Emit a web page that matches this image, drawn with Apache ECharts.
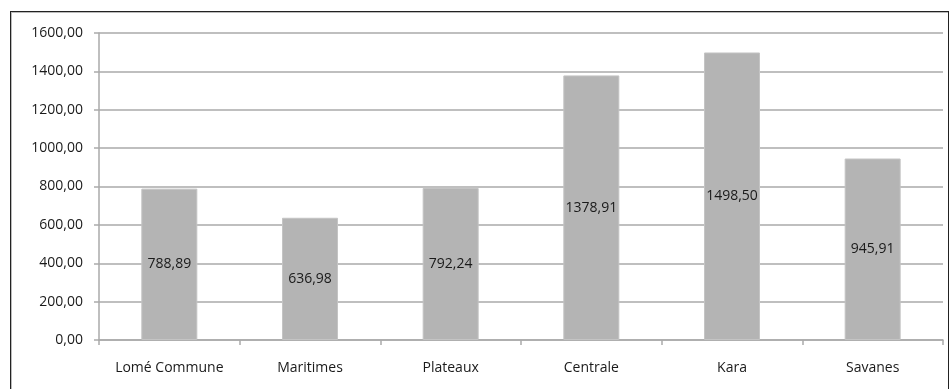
<!DOCTYPE html>
<html>
<head>
<meta charset="utf-8">
<script src="https://cdn.jsdelivr.net/npm/echarts@6/dist/echarts.min.js"></script>
<style>
  html, body { margin: 0; padding: 0; background: #fff; }
  #frame {
    position: absolute; left: 10px; top: 11px; width: 937px; height: 390px;
    border: 1px solid #222; border-bottom: none;
    box-shadow: inset 1px 1px 0 #bbb;
  }
  #chart { position: absolute; left: 0; top: 0; width: 951px; height: 389px; }
</style>
</head>
<body>
<div id="frame"></div>
<div id="chart"></div>
<script>
// regions
const categories = ['Lomé Commune', 'Maritimes', 'Plateaux', 'Centrale', 'Kara', 'Savanes'];
const values = [788.89, 636.98, 792.24, 1378.91, 1498.50, 945.91];
const yTicks = { min: 0, max: 1600, interval: 200 };

function fmt(v) {
  return Number(v).toFixed(2).replace('.', ',');
}

let myChart = echarts.init(document.getElementById('chart'));
let option = {
  animation: false,
  textStyle: { fontFamily: 'Open Sans' },
  grid: { left: 99, right: 8, top: 33, bottom: 49, containLabel: false },
  xAxis: {
    type: 'category',
    data: categories,
    axisTick: { show: true, length: 5, lineStyle: { color: '#aaa', width: 1.5 } },
    axisLine: { lineStyle: { color: '#aaa', width: 1.5 } },
    axisLabel: { color: '#1a1a1a', fontSize: 14, margin: 21, interval: 0 }
  },
  yAxis: {
    type: 'value',
    min: yTicks.min, max: yTicks.max, interval: yTicks.interval,
    axisLine: { show: true, lineStyle: { color: '#aaa', width: 1.5 } },
    axisTick: { show: true, length: 5, lineStyle: { color: '#aaa', width: 1.5 } },
    axisLabel: { color: '#1a1a1a', fontSize: 14, margin: 16, formatter: fmt },
    splitLine: { show: true, lineStyle: { color: '#aaa', width: 1.5 } }
  },
  series: [{
    type: 'bar',
    data: values,
    barWidth: 56,
    itemStyle: { color: '#b4b4b4', borderColor: '#c4c4c4', borderWidth: 1 },
    label: {
      show: true,
      position: 'inside',
      color: '#1a1a1a',
      fontSize: 14,
      formatter: function (p) { return fmt(p.value); }
    }
  }]
};
myChart.setOption(option);
</script>
</body>
</html>
